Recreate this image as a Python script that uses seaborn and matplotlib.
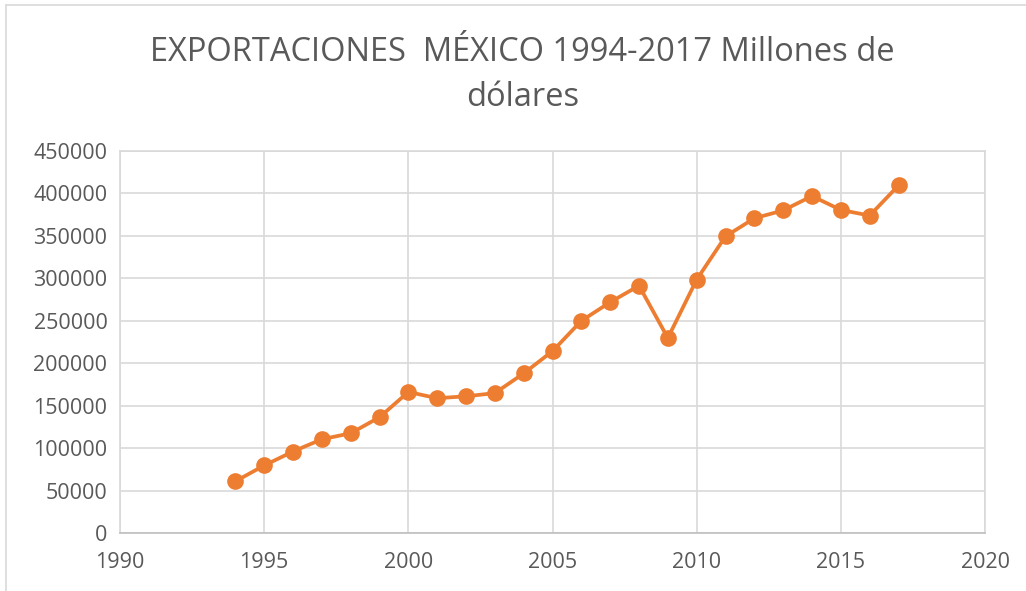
import matplotlib
matplotlib.use('Agg')
import matplotlib.pyplot as plt
import seaborn as sns
import pandas as pd
from matplotlib.lines import Line2D

years = [1994, 1995, 1996, 1997, 1998, 1999, 2000, 2001, 2002, 2003, 2004, 2005,
         2006, 2007, 2008, 2009, 2010, 2011, 2012, 2013, 2014, 2015, 2016, 2017]
exports = [60882, 79542, 96000, 110431, 117460, 136362, 166121, 158780, 161046,
           164766, 187999, 214233, 249925, 271875, 291343, 229712, 298473, 349433,
           370770, 380015, 396912, 380550, 373948, 409401]

df = pd.DataFrame({'year': years, 'exports': exports})

sns.set_style('white')
plt.rcParams['font.family'] = ['Open Sans', 'DejaVu Sans']

fig = plt.figure(figsize=(10.26, 5.91), dpi=100)
ax = fig.add_axes([120 / 1026, 58 / 591, 865 / 1026, 382 / 591])

sns.lineplot(data=df, x='year', y='exports', ax=ax, color='#ED7D31', linewidth=2.7,
             marker='o', markersize=12, markeredgewidth=0, zorder=3)

ax.set_xlim(1990, 2020)
ax.set_ylim(0, 450000)
ax.set_xticks(range(1990, 2021, 5))
ax.set_yticks(range(0, 450001, 50000))
ax.grid(True, color='#D9D9D9', linewidth=1.2)
for s in ax.spines.values():
    s.set_color('#D9D9D9')
    s.set_linewidth(1.2)
ax.spines['bottom'].set_color('#BFBFBF')
ax.tick_params(axis='both', length=0, labelsize=15.5, labelcolor='#595959')
ax.tick_params(axis='x', pad=14)
ax.tick_params(axis='y', pad=9)
ax.set_xlabel('')
ax.set_ylabel('')

fig.text(0.509, 0.911, 'EXPORTACIONES  MÉXICO 1994-2017 Millones de', ha='center', va='center',
         fontsize=23.5, color='#595959')
fig.text(0.509, 0.835, 'dólares', ha='center', va='center', fontsize=23.5, color='#595959')

fig.add_artist(Line2D([6 / 1026, 6 / 1026], [0, 586 / 591], color='#D9D9D9', linewidth=1.2,
                      transform=fig.transFigure))
fig.add_artist(Line2D([6 / 1026, 1], [586 / 591, 586 / 591], color='#D9D9D9', linewidth=1.2,
                      transform=fig.transFigure))

fig.savefig('out.png', dpi=100)
